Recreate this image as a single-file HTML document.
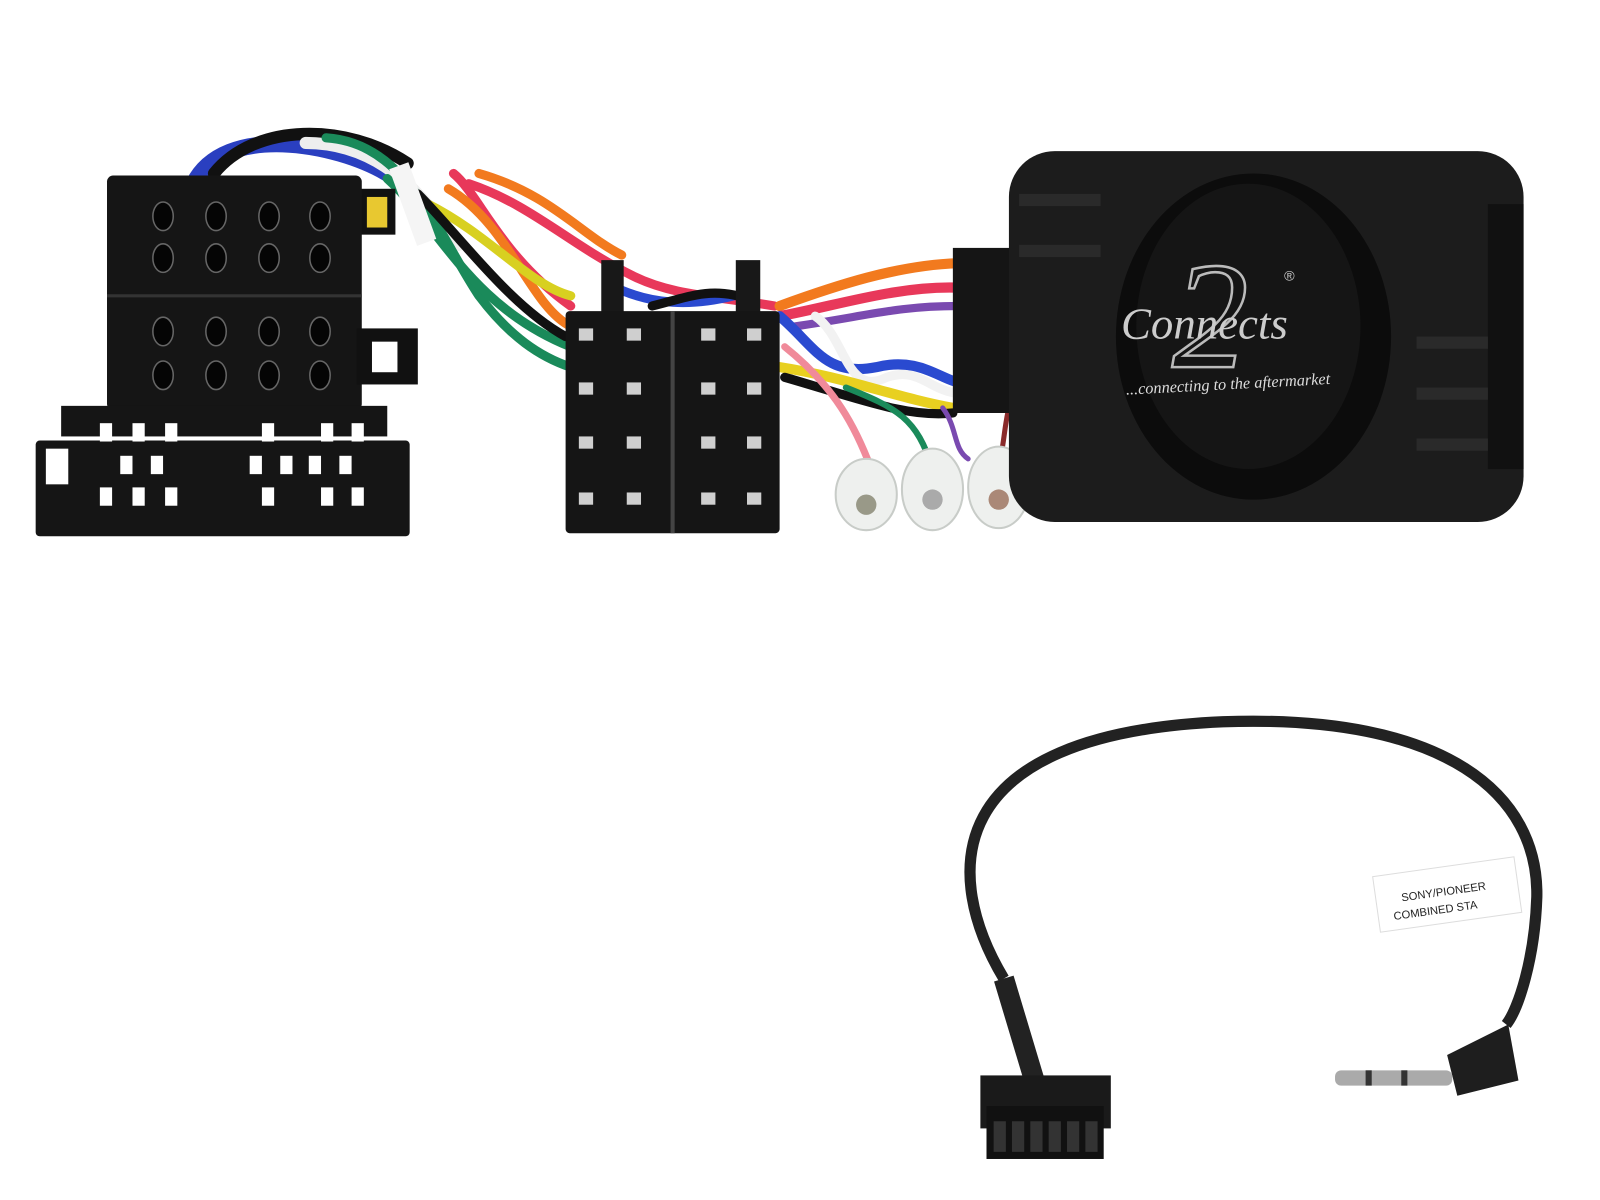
<!DOCTYPE html>
<html><head><meta charset="utf-8"><style>html,body{margin:0;padding:0;background:#fff}svg{display:block}</style></head>
<body>
<svg width="1600" height="1200" viewBox="0 0 1570 1177" xmlns="http://www.w3.org/2000/svg">
<rect width="1570" height="1177" fill="#fff"/>
<g fill="none" stroke-linecap="round">
<path d="M190,180 C220,120 330,140 380,170" stroke="#2a3fc0" stroke-width="16"/>
<path d="M210,170 C250,120 340,120 400,160" stroke="#111" stroke-width="12"/>
<path d="M300,140 C380,140 420,200 450,240" stroke="#eee" stroke-width="12"/>
<path d="M320,135 C400,140 430,230 470,290 C500,330 530,350 560,360" stroke="#1a8a5a" stroke-width="9"/>
<path d="M380,175 C430,220 460,300 560,340" stroke="#1a8a5a" stroke-width="9"/>
<path d="M445,170 C470,190 490,250 560,300" stroke="#e8385a" stroke-width="9"/>
<path d="M440,185 C500,220 520,300 560,320" stroke="#f27a1e" stroke-width="9"/>
<path d="M420,200 C480,230 520,280 560,290" stroke="#d8d020" stroke-width="9"/>
<path d="M410,190 C450,230 500,300 555,330" stroke="#111" stroke-width="9"/>
<path d="M460,180 C520,200 560,240 620,270 C660,290 700,290 760,300" stroke="#e8385a" stroke-width="9"/>
<path d="M470,170 C540,190 570,230 610,250" stroke="#f27a1e" stroke-width="9"/>
<path d="M600,280 C640,300 680,300 720,290" stroke="#2a4ad0" stroke-width="9"/>
<path d="M640,300 C680,290 700,280 740,295" stroke="#111" stroke-width="9"/>
<path d="M765,300 C820,280 880,260 940,258" stroke="#f27a1e" stroke-width="10"/>
<path d="M765,310 C820,300 880,280 940,282" stroke="#e8385a" stroke-width="10"/>
<path d="M780,320 C850,310 880,300 940,300" stroke="#7a4ab0" stroke-width="8"/>
<path d="M765,310 C800,340 810,370 860,360 C900,350 920,370 940,375" stroke="#2a4ad0" stroke-width="10"/>
<path d="M800,310 C830,330 830,390 870,370 C900,360 910,380 935,385" stroke="#f2f2f2" stroke-width="9"/>
<path d="M765,360 C830,370 880,390 935,400" stroke="#e8d020" stroke-width="10"/>
<path d="M770,370 C840,390 890,410 935,405" stroke="#111" stroke-width="9"/>
<path d="M770,340 C820,380 840,420 855,460" stroke="#f08a9a" stroke-width="7"/>
<path d="M830,380 C880,400 900,410 915,460" stroke="#1a8a5a" stroke-width="6"/>
<path d="M925,400 C940,420 935,440 950,450" stroke="#7a4ab0" stroke-width="5"/>
<path d="M990,400 C985,420 985,440 980,455" stroke="#8a2a2a" stroke-width="5"/>
</g>
<rect x="395" y="160" width="20" height="80" fill="#f5f5f5" transform="rotate(-20 405 200)"/>
<rect x="350" y="185" width="38" height="45" fill="#111"/>
<rect x="360" y="193" width="20" height="30" fill="#e8c830"/>
<rect x="105" y="172" width="250" height="230" rx="6" fill="#151515"/>
<line x1="105" y1="290" x2="355" y2="290" stroke="#333" stroke-width="3"/>
<rect x="350" y="322" width="60" height="55" fill="#111"/>
<rect x="365" y="335" width="25" height="30" fill="#fff"/>
<g fill="#050505" stroke="#666" stroke-width="1.5">
<ellipse cx="160" cy="212" rx="10" ry="14"/><ellipse cx="212" cy="212" rx="10" ry="14"/><ellipse cx="264" cy="212" rx="10" ry="14"/><ellipse cx="314" cy="212" rx="10" ry="14"/>
<ellipse cx="160" cy="253" rx="10" ry="14"/><ellipse cx="212" cy="253" rx="10" ry="14"/><ellipse cx="264" cy="253" rx="10" ry="14"/><ellipse cx="314" cy="253" rx="10" ry="14"/>
<ellipse cx="160" cy="325" rx="10" ry="14"/><ellipse cx="212" cy="325" rx="10" ry="14"/><ellipse cx="264" cy="325" rx="10" ry="14"/><ellipse cx="314" cy="325" rx="10" ry="14"/>
<ellipse cx="160" cy="368" rx="10" ry="14"/><ellipse cx="212" cy="368" rx="10" ry="14"/><ellipse cx="264" cy="368" rx="10" ry="14"/><ellipse cx="314" cy="368" rx="10" ry="14"/>
</g>
<rect x="60" y="398" width="320" height="30" fill="#151515"/>
<rect x="35" y="432" width="367" height="94" rx="4" fill="#151515"/>
<rect x="45" y="440" width="22" height="35" fill="#fff"/>
<g fill="#fff">
<rect x="98" y="415" width="12" height="18"/><rect x="130" y="415" width="12" height="18"/><rect x="162" y="415" width="12" height="18"/><rect x="257" y="415" width="12" height="18"/><rect x="315" y="415" width="12" height="18"/><rect x="345" y="415" width="12" height="18"/>
<rect x="118" y="447" width="12" height="18"/><rect x="148" y="447" width="12" height="18"/><rect x="245" y="447" width="12" height="18"/><rect x="275" y="447" width="12" height="18"/><rect x="303" y="447" width="12" height="18"/><rect x="333" y="447" width="12" height="18"/>
<rect x="98" y="478" width="12" height="18"/><rect x="130" y="478" width="12" height="18"/><rect x="162" y="478" width="12" height="18"/><rect x="257" y="478" width="12" height="18"/><rect x="315" y="478" width="12" height="18"/><rect x="345" y="478" width="12" height="18"/>
</g>
<rect x="590" y="255" width="22" height="55" fill="#181818"/>
<rect x="722" y="255" width="24" height="55" fill="#181818"/>
<rect x="555" y="305" width="210" height="218" rx="4" fill="#151515"/>
<line x1="660" y1="305" x2="660" y2="523" stroke="#444" stroke-width="4"/>
<g fill="#cfcfcf">
<rect x="568" y="322" width="14" height="12"/><rect x="615" y="322" width="14" height="12"/><rect x="688" y="322" width="14" height="12"/><rect x="733" y="322" width="14" height="12"/>
<rect x="568" y="375" width="14" height="12"/><rect x="615" y="375" width="14" height="12"/><rect x="688" y="375" width="14" height="12"/><rect x="733" y="375" width="14" height="12"/>
<rect x="568" y="428" width="14" height="12"/><rect x="615" y="428" width="14" height="12"/><rect x="688" y="428" width="14" height="12"/><rect x="733" y="428" width="14" height="12"/>
<rect x="568" y="483" width="14" height="12"/><rect x="615" y="483" width="14" height="12"/><rect x="688" y="483" width="14" height="12"/><rect x="733" y="483" width="14" height="12"/>
</g>
<g fill="#eef0ee" stroke="#c8ccc8" stroke-width="2">
<ellipse cx="850" cy="485" rx="30" ry="35"/><ellipse cx="915" cy="480" rx="30" ry="40"/><ellipse cx="980" cy="478" rx="30" ry="40"/>
</g>
<circle cx="850" cy="495" r="10" fill="#998"/><circle cx="915" cy="490" r="10" fill="#aaa"/><circle cx="980" cy="490" r="10" fill="#a87"/>
<rect x="935" y="243" width="60" height="162" fill="#151515"/>
<rect x="990" y="148" width="505" height="364" rx="45" fill="#1c1c1c"/>
<rect x="1460" y="200" width="35" height="260" fill="#111"/>
<g fill="#2a2a2a">
<rect x="1000" y="190" width="80" height="12"/><rect x="1000" y="240" width="80" height="12"/><rect x="1390" y="330" width="70" height="12"/><rect x="1390" y="380" width="70" height="12"/><rect x="1390" y="430" width="70" height="12"/>
</g>
<ellipse cx="1230" cy="330" rx="135" ry="160" fill="#0c0c0c"/>
<ellipse cx="1225" cy="320" rx="110" ry="140" fill="#151515"/>
<text x="1150" y="360" font-family="Liberation Serif,serif" font-size="150" font-style="italic" fill="none" stroke="#bbb" stroke-width="2.5">2</text>
<text x="1100" y="332" font-family="Liberation Serif,serif" font-size="44" font-style="italic" fill="#ccc">Connects</text>
<text x="1260" y="275" font-family="Liberation Sans,sans-serif" font-size="14" fill="#ccc">®</text>
<text x="1105" y="387" font-family="Liberation Serif,serif" font-size="16" font-style="italic" fill="#ddd" transform="rotate(-3 1105 387)">...connecting to the aftermarket</text>
<path d="M985,960 C925,860 920,720 1200,708 C1420,700 1510,780 1508,880 C1506,940 1490,990 1478,1005" fill="none" stroke="#222" stroke-width="11"/>
<path d="M985,960 L1015,1060" stroke="#222" stroke-width="20" fill="none"/>
<rect x="1350" y="850" width="140" height="55" fill="#fff" stroke="#ddd" transform="rotate(-8 1420 877)"/>
<text x="1375" y="878" font-family="Liberation Sans,sans-serif" font-size="11" fill="#222" transform="rotate(-8 1420 877)">SONY/PIONEER</text>
<text x="1365" y="895" font-family="Liberation Sans,sans-serif" font-size="11" fill="#222" transform="rotate(-8 1420 877)">COMBINED STA</text>
<rect x="962" y="1055" width="128" height="52" fill="#1a1a1a"/>
<rect x="968" y="1085" width="115" height="52" fill="#111"/>
<g fill="#333"><rect x="975" y="1100" width="12" height="30"/><rect x="993" y="1100" width="12" height="30"/><rect x="1011" y="1100" width="12" height="30"/><rect x="1029" y="1100" width="12" height="30"/><rect x="1047" y="1100" width="12" height="30"/><rect x="1065" y="1100" width="12" height="30"/></g>
<path d="M1420,1035 L1480,1005 L1490,1060 L1430,1075 Z" fill="#1e1e1e"/>
<rect x="1310" y="1050" width="115" height="15" rx="6" fill="#aaa"/>
<rect x="1340" y="1050" width="6" height="15" fill="#333"/><rect x="1375" y="1050" width="6" height="15" fill="#333"/>
</svg>
</body></html>
